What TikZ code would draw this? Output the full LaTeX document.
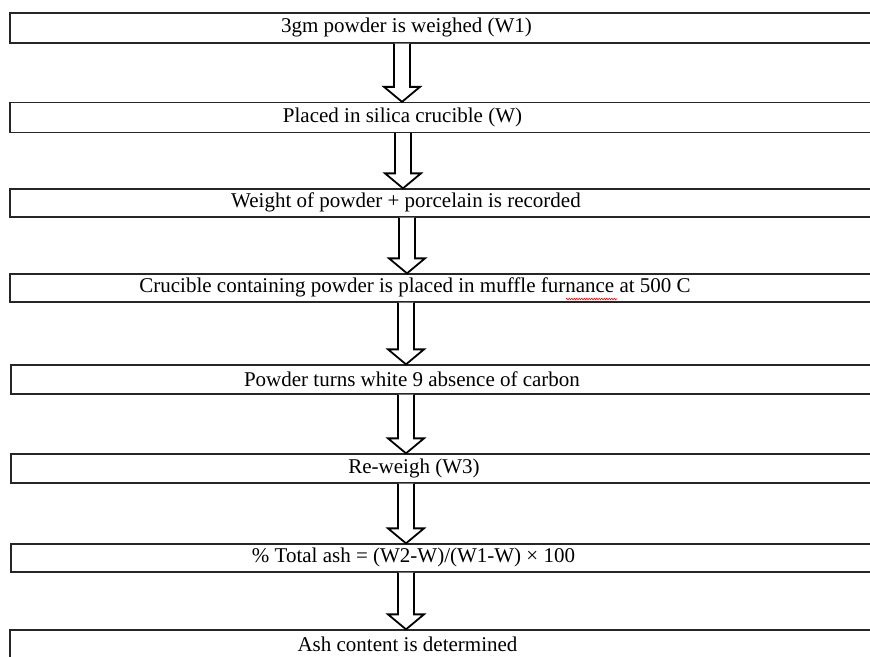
\documentclass[tikz,border=0pt]{standalone}
\usepackage{fontspec}
\setmainfont{Liberation Serif}
\usetikzlibrary{calc,decorations.pathmorphing}
\tikzset{
  box/.style={draw=black!85, line width=1.3pt, rectangle, minimum width=900pt, minimum height=30pt, inner sep=0pt},
  txt/.style={inner sep=0pt, font=\fontsize{21}{25}\selectfont, anchor=center},
  arr/.style={draw=black, line width=1.8pt, fill=white, line join=miter},
}
\newcommand\hollowarrow[3]{%
  \draw[arr] let \p1=(#1.south), \p2=(#2.north) in
    ({#3pt-8pt},\y1) -- ({#3pt-8pt},{\y2+15pt}) -- ({#3pt-18pt},{\y2+15pt}) --
    (#3pt,\y2) -- ({#3pt+18pt},{\y2+15pt}) -- ({#3pt+8pt},{\y2+15pt}) -- ({#3pt+8pt},\y1);}
\begin{document}
\begin{tikzpicture}[x=1pt,y=-1pt]
\useasboundingbox (0,0) rectangle (870,656);
\clip (0,0) rectangle (870,656);
\node[box] (b1) at (460,28) {};
\node[box] (b2) at (460,117.5) {};
\node[box, minimum height=28pt] (b3) at (460,203) {};
\node[box, minimum height=28pt] (b4) at (460,288) {};
\node[box, minimum height=29pt] (b5) at (461,379.5) {};
\node[box, minimum height=29pt] (b6) at (461,468.5) {};
\node[box, minimum height=28pt] (b7) at (461,558) {};
\node[box] (b8) at (460,645) {};
\node[txt] (t1) at (406.5,27.5) {3gm powder is weighed (W1)};
\node[txt] (t2) at (402.5,117) {Placed in silica crucible (W)};
\node[txt] (t3) at (406,202.5) {Weight of powder + porcelain is recorded};
\node[txt] (t4) at (415,287.5) {Crucible containing powder is placed in muffle furnance at 500 C};
\node[txt] (t5) at (412,379) {Powder turns white 9 absence of carbon};
\node[txt] (t6) at (414,468) {Re-weigh (W3)};
\node[txt] (t7) at (413.5,557.5) {\% Total ash = (W2-W)/(W1-W) × 100};
\node[txt] (t8) at (407.5,644) {Ash content is determined};
\hollowarrow{b1}{b2}{402}
\hollowarrow{b2}{b3}{403}
\hollowarrow{b3}{b4}{407}
\hollowarrow{b4}{b5}{406}
\hollowarrow{b5}{b6}{406}
\hollowarrow{b6}{b7}{406}
\hollowarrow{b7}{b8}{406}
\coordinate (w1) at (566,299);
\coordinate (w2) at (617,299);
\draw[red, line width=0.6pt, decorate, decoration={snake, amplitude=0.8pt, segment length=2.5pt}] (w1) -- (w2);
\end{tikzpicture}
\end{document}
